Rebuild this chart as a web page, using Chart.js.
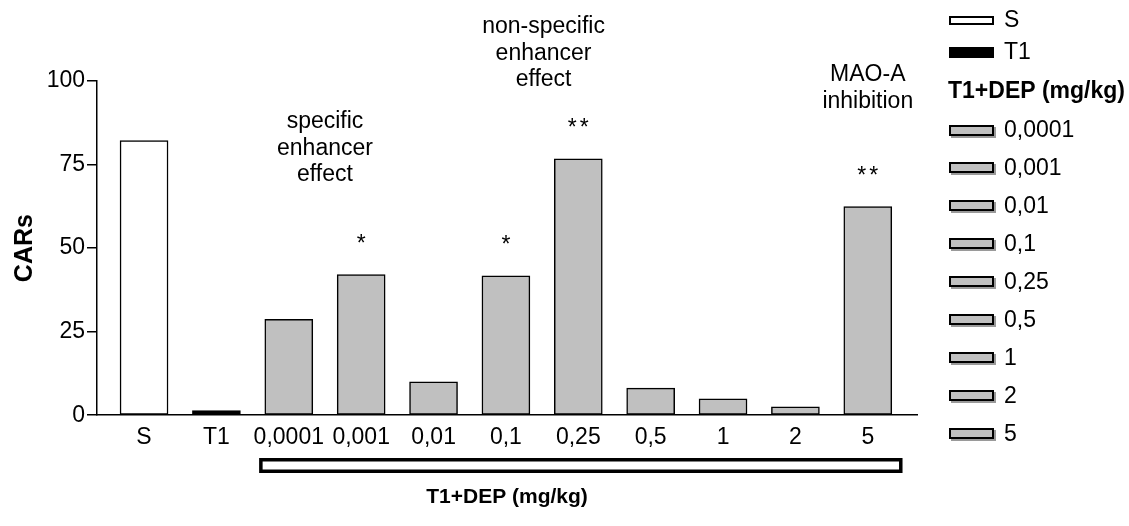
<!DOCTYPE html>
<html>
<head>
<meta charset="utf-8">
<title>CARs</title>
<script src="https://cdn.jsdelivr.net/npm/chart.js@4.4.1/dist/chart.umd.min.js"></script>
<style>
  body { margin: 0; background: #fff; }
</style>
</head>
<body>
<canvas id="carsChart" width="1129" height="526"></canvas>
<script>
// groups on the x axis, and the CARs measured for each
const groups = ['S', 'T1', '0,0001', '0,001', '0,01', '0,1', '0,25', '0,5', '1', '2', '5'];
const cars = [82.2, 1.4, 28.7, 42.1, 10.0, 41.7, 76.7, 8.1, 4.9, 2.5, 62.4];
const stars = ['', '', '', '*', '', '*', '**', '', '', '', '**'];
const yTicks = [0, 25, 50, 75, 100];
const doseLabels = groups.slice(2);
const barColors = ['#ffffff', '#000000'].concat(doseLabels.map(() => '#c0c0c0'));

const specificNote = ['specific', 'enhancer', 'effect'];
const nonSpecificNote = ['non-specific', 'enhancer', 'effect'];
const maoNote = ['MAO-A', 'inhibition'];

const FONT = '"Liberation Sans", Arial, sans-serif';
Chart.defaults.font.family = FONT;
Chart.defaults.color = '#000';

// notes, stars and the bracket under the dose labels
const notesPlugin = {
    id: 'notes',
    afterDatasetsDraw(chart) {
        const ctx = chart.ctx;
        const x = chart.scales.x;
        const y = chart.scales.y;
        ctx.save();
        ctx.fillStyle = '#000';
        ctx.textAlign = 'center';
        ctx.textBaseline = 'alphabetic';
        ctx.font = '23px ' + FONT;

        ctx.letterSpacing = '3px';
        stars.forEach(function(s, i) {
            if (s) ctx.fillText(s, x.getPixelForValue(i) + 1.5, y.getPixelForValue(cars[i]) - 24);
        });
        ctx.letterSpacing = '0px';

        const block = function(lines, at, firstBaseline) {
            lines.forEach(function(t, k) {
                ctx.fillText(t, x.getPixelForValue(at), firstBaseline + k * 26.5);
            });
        };
        block(specificNote, 2.5, 128);
        block(nonSpecificNote, 5.52, 33);
        block(maoNote, 10, 81);

        // bracket
        const bx0 = x.getPixelForValue(1.59);
        const bx1 = x.getPixelForValue(10.48);
        ctx.lineWidth = 3.5;
        ctx.strokeStyle = '#000';
        ctx.strokeRect(bx0 + 1.75, 459.75, bx1 - bx0 - 3.5, 11.5);
        ctx.restore();
    }
};

const legendPlugin = {
    id: 'sideLegend',
    afterDraw(chart) {
        const ctx = chart.ctx;
        ctx.save();
        ctx.textBaseline = 'middle';
        ctx.textAlign = 'left';
        const boxX = 949, boxW = 45, textX = 1004;

        function row(yc, fill, label, shadow, boxH) {
            const top = Math.round(yc - boxH / 2);
            if (shadow) {
                ctx.fillStyle = '#9a9a9a';
                ctx.fillRect(boxX + 2, top + 2, boxW, boxH);
            }
            ctx.fillStyle = fill;
            ctx.fillRect(boxX, top, boxW, boxH);
            ctx.lineWidth = 2;
            ctx.strokeStyle = '#000';
            ctx.strokeRect(boxX + 1, top + 1, boxW - 2, boxH - 2);
            ctx.fillStyle = '#000';
            ctx.font = '23px ' + FONT;
            ctx.fillText(label, textX, yc + 1);
        }

        row(20, barColors[0], groups[0], false, 9);
        row(52, barColors[1], groups[1], false, 11);
        ctx.fillStyle = '#000';
        ctx.font = 'bold 23px ' + FONT;
        ctx.fillText('T1+DEP (mg/kg)', 948, 92);
        doseLabels.forEach(function(d, i) {
            row(130 + i * 37.9, barColors[i + 2], d, true, 11);
        });
        ctx.restore();
    }
};

document.addEventListener('DOMContentLoaded', function() {
    const ctx = document.getElementById('carsChart').getContext('2d');
    new Chart(ctx, {
        type: 'bar',
        data: {
            datasets: [{
                data: cars.map(function(v, i) { return { x: i, y: v }; }),
                backgroundColor: barColors,
                borderColor: '#000',
                borderWidth: 1.5,
                borderSkipped: false,
                barThickness: 48
            }]
        },
        options: {
            responsive: false,
            animation: false,
            layout: { padding: { top: 81, right: 212, bottom: 16, left: 0 } },
            plugins: {
                legend: { display: false },
                tooltip: { enabled: false }
            },
            scales: {
                x: {
                    type: 'linear',
                    min: -0.65,
                    max: 10.68,
                    offset: false,
                    grid: { display: false, drawTicks: false, offset: false },
                    border: { display: true, color: '#000', width: 1.5 },
                    ticks: {
                        stepSize: 1,
                        includeBounds: false,
                        autoSkip: false,
                        maxRotation: 0,
                        minRotation: 0,
                        padding: 9,
                        font: { size: 23 },
                        callback: function(v) {
                            return Number.isInteger(v) && groups[v] !== undefined ? groups[v] : '';
                        }
                    },
                    title: {
                        display: true,
                        text: 'T1+DEP (mg/kg)',
                        font: { size: 21, weight: 'bold' },
                        padding: { top: 24, bottom: 0 }
                    }
                },
                y: {
                    min: 0,
                    max: 100,
                    afterBuildTicks: function(s) {
                        s.ticks = yTicks.map(function(v) { return { value: v }; });
                    },
                    afterFit: function(s) { s.width = 97; },
                    grid: {
                        drawOnChartArea: false,
                        drawTicks: true,
                        tickLength: 10,
                        color: '#000',
                        lineWidth: 1.5
                    },
                    border: { display: true, color: '#000', width: 1.5 },
                    ticks: { padding: 2, font: { size: 23 } },
                    title: {
                        display: true,
                        text: 'CARs',
                        font: { size: 25, weight: 'bold' },
                        padding: { top: 10, bottom: 0 }
                    }
                }
            }
        },
        plugins: [notesPlugin, legendPlugin]
    });
});
</script>
</body>
</html>
